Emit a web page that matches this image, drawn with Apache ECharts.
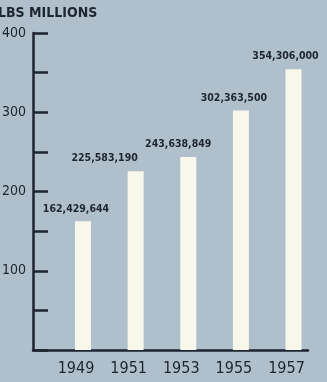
<!DOCTYPE html>
<html>
<head>
<meta charset="utf-8">
<script src="https://cdn.jsdelivr.net/npm/echarts@6/dist/echarts.min.js"></script>
<style>
  html, body { margin: 0; padding: 0; background: #afc0cc; }
  #chart { width: 327px; height: 382px; }
</style>
</head>
<body>
<div id="chart"></div>
<script>
// Production by year, in pounds
const years = [1949, 1951, 1953, 1955, 1957];
const pounds = [162429644, 225583190, 243638849, 302363500, 354306000];
const valueLabels = ['162,429,644', '225,583,190', '243,638,849', '302,363,500', '354,306,000'];
const yTickLabels = ['100', '200', '300', '400'];

// horizontal nudges for the figure above each bar (px)
const labelShift = [-7, -31, -10, -7, -8];

const ink = '#1d2530';
const narrow = '"DejaVu Sans Condensed", "DejaVu Sans", sans-serif';

const chart = echarts.init(document.getElementById('chart'), null, { renderer: 'canvas' });

chart.setOption({
  backgroundColor: '#afc0cc',
  animation: false,
  title: {
    text: 'LBS MILLIONS',
    left: -2,
    top: 6,
    padding: 0,
    textStyle: { fontFamily: narrow, fontSize: 14, fontWeight: 'bold', color: ink }
  },
  grid: { left: 33, right: 19, top: 33, bottom: 32, containLabel: false, outerBoundsMode: 'none' },
  xAxis: {
    type: 'value',
    min: 1947.1,
    max: 1957.55,
    splitLine: { show: false },
    axisLine: { show: true, onZero: false, lineStyle: { color: ink, width: 2.5 } },
    axisTick: { show: false },
    axisLabel: {
      customValues: years,
      formatter: v => String(Math.round(v)),
      margin: 11,
      padding: [0, 14, 0, 0],
      fontFamily: narrow,
      fontSize: 16,
      color: ink
    }
  },
  yAxis: {
    type: 'value',
    min: 0,
    max: 400,
    interval: 50,
    splitLine: { show: false },
    axisLine: { show: true, lineStyle: { color: ink, width: 2.5 } },
    axisTick: { show: true, inside: true, length: 15, lineStyle: { color: ink, width: 2.5 } },
    axisLabel: {
      margin: 7,
      fontFamily: narrow,
      fontSize: 14,
      color: ink,
      formatter: v => yTickLabels.includes(String(v)) ? String(v) : ''
    }
  },
  series: [{
    type: 'bar',
    barWidth: 16,
    itemStyle: { color: '#f8f7ec' },
    data: years.map((y, i) => ({
      value: [y, pounds[i] / 1e6],
      label: {
        show: true,
        position: 'top',
        distance: 7,
        offset: [labelShift[i], 0],
        formatter: valueLabels[i],
        fontFamily: narrow,
        fontSize: 10.5,
        fontWeight: 'bold',
        color: ink
      }
    }))
  }]
});
</script>
</body>
</html>
